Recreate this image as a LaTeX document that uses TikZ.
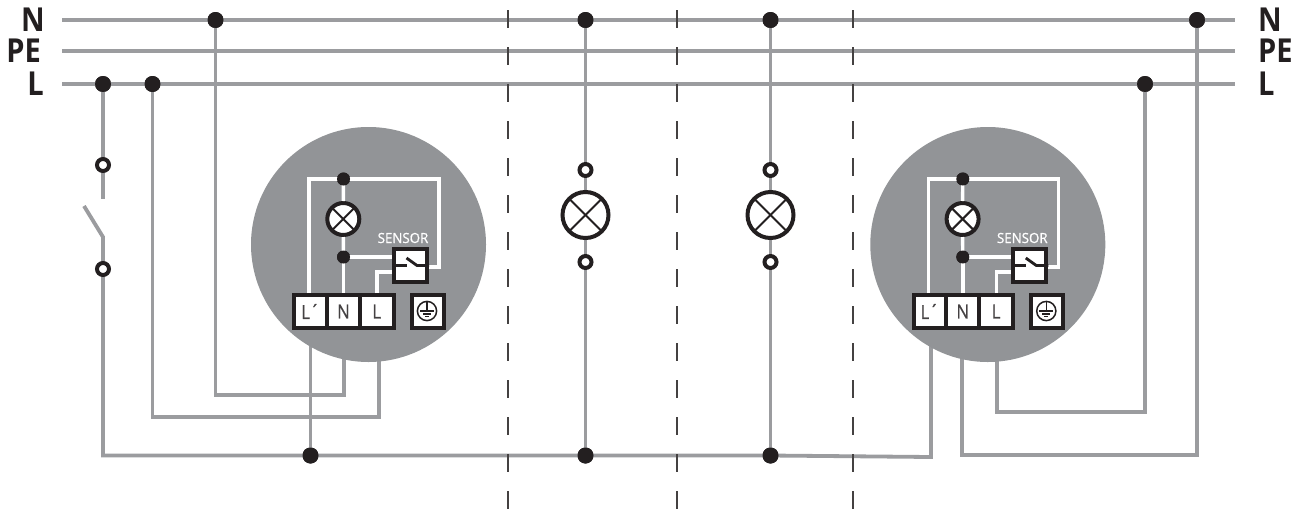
\documentclass[tikz,border=0pt]{standalone}
\usepackage{fontspec}
\setmainfont{Open Sans}
\newfontfamily\labelfont[FakeStretch=0.88]{Open Sans}
\newfontfamily\termfont[FakeStretch=0.86,FakeBold=0.5]{Open Sans}
\newfontfamily\sensorfont[FakeStretch=0.95,FakeBold=0.9]{Open Sans}
\definecolor{wiregray}{HTML}{9B9C9F}
\definecolor{discgray}{HTML}{929497}
\definecolor{inkblack}{HTML}{231F20}
\tikzset{
  wire/.style={draw=wiregray,line width=3.8pt,line join=miter},
  inwire/.style={draw=white,line width=3.4pt,line join=miter},
  dot/.style={circle,fill=inkblack,draw=none,minimum size=16pt,inner sep=0pt},
  smalldot/.style={circle,fill=inkblack,draw=none,minimum size=13pt,inner sep=0pt},
  ring/.style={circle,fill=white,draw=inkblack,line width=4pt,minimum size=12pt,inner sep=0pt},
  lampbig/.style={circle,fill=white,draw=inkblack,line width=4pt,minimum size=46pt,inner sep=0pt},
  cutline/.style={draw=inkblack!85,line width=1.2pt,dash pattern=on 18pt off 19pt},
  buslabel/.style={font=\labelfont\fontsize{33}{33}\selectfont\bfseries,text=inkblack,inner sep=0pt},
  term/.style={rectangle,fill=white,draw=inkblack,line width=4pt,inner sep=0pt,
     minimum height=33pt,text=inkblack!85,font=\termfont\fontsize{19.5}{19.5}\selectfont},
  sensortext/.style={font=\sensorfont\fontsize{14}{14}\selectfont,text=white,inner sep=0pt},
  sensorunit/.pic={
    % origin = centre of the disc
    \node[circle,fill=discgray,draw=none,minimum size=235pt,inner sep=0pt] (disc) at (0,0) {};
    \node[smalldot] (top) at (-25,-65.5) {};
    \node[smalldot] (mid) at (-25,12.5) {};
    \node[circle,fill=white,draw=inkblack,line width=4pt,minimum size=32pt,inner sep=0pt] (lamp) at (-25.2,-25.5) {};
    \node[term,minimum width=32.5pt] (tL) at (-58,67) {L´};
    \node[term,minimum width=33pt] (tN) at (-25,67) {N};
    \node[term,minimum width=33.5pt] (tE) at (8.25,67) {L};
    \node[term,minimum width=32pt] (tP) at (59,66.5) {};
    \node[rectangle,fill=white,draw=inkblack,line width=4pt,minimum size=33pt,inner sep=0pt] (sw) at (42,21) {};
    \node[sensortext] (sn) at (34.5,-6.5) {SENSOR};
    \draw[inwire] (top.center) -- (lamp.north);
    \draw[inwire] (lamp.south) -- (mid.center);
    \draw[inwire] (mid.center) -- (tN.north);
    \draw[inwire] (mid.center) -- (sw.west |- mid.center);
    \draw[inwire] (-59.5,48.5) -- (-59.5,-65.5) -- (top.center);
    \draw[inwire] (top.center) -- (70.5,-65.5) -- (70.5,22.5) -- (60,22.5);
    \draw[inwire] (8.5,48.5) -- (8.5,27.5) -- (sw.west |- 0,27.5);
    \node[smalldot] at (top) {};
    \node[smalldot] at (mid) {};
    \draw[inkblack,line width=2pt] (lamp.center) +(-11.3,-11.3) -- +(11.3,11.3);
    \draw[inkblack,line width=2pt] (lamp.center) +(-11.3,11.3) -- +(11.3,-11.3);
    \draw[inkblack,line width=2.8pt] (sw.west) -- ++(14.5,0);
    \draw[inkblack,line width=2.8pt,line join=miter] (38,13.5) -- (48.5,21) -- (sw.east);
    \draw[inkblack,line width=1.5pt] (58.5,66.5) circle (9.6pt);
    \draw[inkblack,line width=1.3pt] (58.5,57.5) -- (58.5,66.5);
    \draw[inkblack,line width=1.3pt] (51.5,66.5) -- (65.5,66.5);
    \draw[inkblack,line width=1.3pt] (54.5,69.5) -- (62.5,69.5);
    \draw[inkblack,line width=1.3pt] (56.5,72.3) -- (60.5,72.3);
  }
}
\begin{document}
\begin{tikzpicture}[x=1pt,y=-1pt]
\useasboundingbox (0,0) rectangle (1292,509);
\fill[white] (0,0) rectangle (1292,509);
% bus ends
\coordinate (Nl) at (62,20); \coordinate (Nr) at (1235,20);
\coordinate (Pl) at (62,51); \coordinate (Pr) at (1235,51);
\coordinate (Ll) at (62,84); \coordinate (Lr) at (1235,84);
\node[buslabel,anchor=base east] (lN) at (45,31) {N};
\node[buslabel,anchor=base east] (lP) at (41,62) {PE};
\node[buslabel,anchor=base east] (lL) at (44,95) {L};
\node[buslabel,anchor=base west] (rN) at (1258,31) {N};
\node[buslabel,anchor=base west] (rP) at (1258,62) {PE};
\node[buslabel,anchor=base west] (rL) at (1258,95) {L};
% junctions
\node[dot] (n1) at (215.5,20) {};
\node[dot] (n2) at (585.5,20) {};
\node[dot] (n3) at (770.5,20) {};
\node[dot] (n4) at (1197,20) {};
\node[dot] (l1) at (103,84) {};
\node[dot] (l2) at (152.5,84) {};
\node[dot] (l3) at (1145,84) {};
\node[dot] (b1) at (310.5,455.5) {};
\node[dot] (b2) at (585.5,455.5) {};
\node[dot] (b3) at (770.5,455.5) {};
% switch anchors
\coordinate (s1) at (103,199);
\coordinate (s2) at (84,206);
\coordinate (s3) at (103,237);
\coordinate (s4) at (103,455.5);
% wiring
\draw[wire] (Nl) -- (Nr);
\draw[wire] (Pl) -- (Pr);
\draw[wire] (Ll) -- (Lr);
\draw[wire] (l1.center) -- (s1);
\draw[wire] (s2) -- (s3) -- (s4) -- (b1.center) -- (b2.center) -- (b3.center) -- (931,457) -- (931,340);
\draw[wire] (n1.center) -- (215.5,395) -- (344,395) -- (344,340);
\draw[wire] (l2.center) -- (152.5,417) -- (379,417) -- (379,340);
\draw[wire] (b1.center) -- (310.5,340);
\draw[wire] (n2.center) -- (b2.center);
\draw[wire] (n3.center) -- (b3.center);
\draw[wire] (n4.center) -- (1197,455) -- (962,455) -- (962,340);
\draw[wire] (l3.center) -- (1145,412) -- (997,412) -- (997,340);
% junction dots over wires
\foreach \d in {n1,n2,n3,n4,l1,l2,l3,b1,b2,b3} \node[dot] at (\d) {};
% switch rings
\node[ring] (r1) at (103,165) {};
\node[ring] (r2) at (103,269) {};
% lamps
\foreach \x/\k in {585.5/a,770.5/b}{
  \node[ring] (rt\k) at (\x,170) {};
  \node[ring] (rb\k) at (\x,262) {};
  \node[lampbig] (la\k) at (\x,215) {};
  \draw[inkblack,line width=2pt] (la\k.center) +(-16.5,-16.5) -- +(16.5,16.5);
  \draw[inkblack,line width=2pt] (la\k.center) +(-16.5,16.5) -- +(16.5,-16.5);
}
% devices
\pic (A) at (368.5,244.5) {sensorunit};
\pic (B) at (987.8,244.5) {sensorunit};
% cut lines
\coordinate (c1t) at (508,10); \coordinate (c1b) at (508,509);
\coordinate (c2t) at (677,10); \coordinate (c2b) at (677,509);
\coordinate (c3t) at (853,10); \coordinate (c3b) at (853,509);
\draw[cutline] (c1t) -- (c1b);
\draw[cutline] (c2t) -- (c2b);
\draw[cutline] (c3t) -- (c3b);
\end{tikzpicture}
\end{document}
